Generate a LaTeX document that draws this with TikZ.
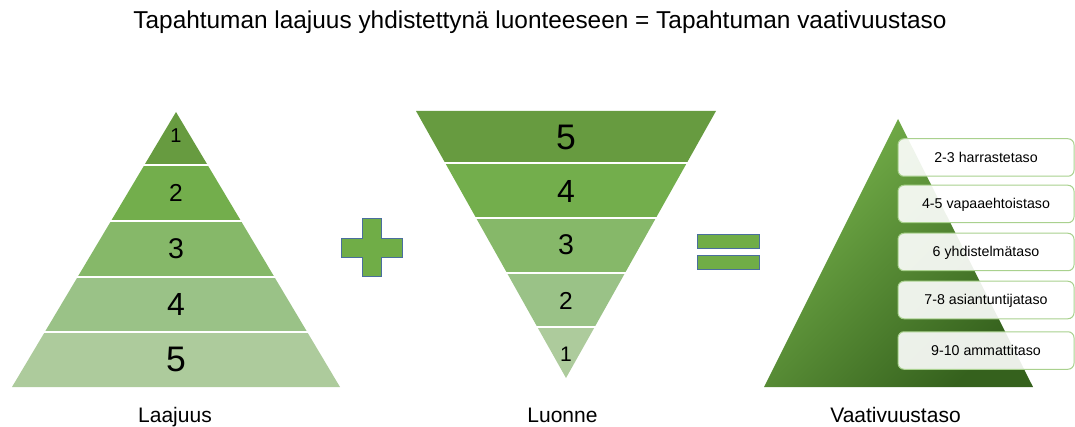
\documentclass[tikz,border=0pt]{standalone}
\usepackage{fontspec}
\setmainfont{Liberation Sans}
\definecolor{ga}{HTML}{679B40}
\definecolor{gb}{HTML}{73AE4C}
\definecolor{gc}{HTML}{86B869}
\definecolor{gd}{HTML}{9AC287}
\definecolor{ge}{HTML}{ADCB9C}
\definecolor{symgreen}{HTML}{70AD47}
\definecolor{symblue}{HTML}{4A6E9E}
\definecolor{boxgreen}{HTML}{A9D18E}
\definecolor{trilight}{HTML}{78B44C}
\definecolor{tridark}{HTML}{35611D}
\begin{document}
\begin{tikzpicture}[x=1pt,y=-1pt,
  sep/.style={draw=white, line width=2pt},
  num/.style={anchor=base, inner sep=0pt, text=black},
  lbl/.style={anchor=base, inner sep=0pt, font=\fontsize{21}{24}\selectfont},
  tbox/.style={draw=boxgreen, line width=1pt, fill=white, fill opacity=0.9, text opacity=1,
    rounded corners=6pt, minimum width=176pt, minimum height=37.5pt, inner sep=0pt,
    text height=10pt, text depth=0pt, font=\fontsize{14.2}{16}\selectfont},
  sym/.style={fill=symgreen, draw=symblue, line width=1pt}]
\useasboundingbox (0,0) rectangle (1075,427);

% title
\node[anchor=base, inner sep=0pt, font=\fontsize{24.4}{28}\selectfont] (title) at (540,29)
  {Tapahtuman laajuus yhdistettynä luonteeseen = Tapahtuman vaativuustaso};

% left pyramid
\fill[ga] (176,112) -- (207.6,165) -- (144.4,165) -- cycle;
\fill[gb] (144.4,165) -- (207.6,165) -- (241,221) -- (111,221) -- cycle;
\fill[gc] (111,221) -- (241,221) -- (274.4,277) -- (77.6,277) -- cycle;
\fill[gd] (77.6,277) -- (274.4,277) -- (307.2,332) -- (44.8,332) -- cycle;
\fill[ge] (44.8,332) -- (307.2,332) -- (340,387) -- (12,387) -- cycle;
\foreach \yy in {165,221,277,332} \draw[sep] (5,\yy) -- (347,\yy);
\node[num, font=\fontsize{20}{22}\selectfont] (l1) at (176,143) {1};
\node[num, font=\fontsize{24.5}{26}\selectfont] (l2) at (176,202) {2};
\node[num, font=\fontsize{28.5}{30}\selectfont] (l3) at (176,259) {3};
\node[num, font=\fontsize{32}{34}\selectfont] (l4) at (176,316) {4};
\node[num, font=\fontsize{35.5}{38}\selectfont] (l5) at (176,371) {5};

% plus
\draw[sym] (362,219) -- (381,219) -- (381,239) -- (402,239) -- (402,258) -- (381,258)
  -- (381,277) -- (362,277) -- (362,258) -- (341,258) -- (341,239) -- (362,239) -- cycle;

% middle inverted pyramid
\fill[ga] (416,111) -- (716,111) -- (686.8,163) -- (445.2,163) -- cycle;
\fill[gb] (445.2,163) -- (686.8,163) -- (655.9,218) -- (476.1,218) -- cycle;
\fill[gc] (476.1,218) -- (655.9,218) -- (625,273) -- (507,273) -- cycle;
\fill[gd] (507,273) -- (625,273) -- (594.7,327) -- (537.3,327) -- cycle;
\fill[ge] (537.3,327) -- (594.7,327) -- (566,378) -- cycle;
\foreach \yy in {163,218,273,327} \draw[sep] (410,\yy) -- (722,\yy);
\node[num, font=\fontsize{35.5}{38}\selectfont] (m5) at (566,150) {5};
\node[num, font=\fontsize{32}{34}\selectfont] (m4) at (566,203) {4};
\node[num, font=\fontsize{28.5}{30}\selectfont] (m3) at (566,255) {3};
\node[num, font=\fontsize{24.5}{26}\selectfont] (m2) at (566,309) {2};
\node[num, font=\fontsize{21}{22}\selectfont] (m1) at (566,361) {1};

% equals
\draw[sym] (697,235) rectangle (759,249);
\draw[sym] (697,256) rectangle (759,270);

% right triangle
\shade[top color=trilight, bottom color=tridark, shading angle=45]
  (898,119) -- (1033,387) -- (764,387) -- cycle;
\node[tbox] (b1) at (986,157.5) {2-3 harrastetaso};
\node[tbox] (b2) at (986,204) {4-5 vapaaehtoistaso};
\node[tbox] (b3) at (986,252) {6 yhdistelmätaso};
\node[tbox] (b4) at (986,300) {7-8 asiantuntijataso};
\node[tbox] (b5) at (986,350.5) {9-10 ammattitaso};

% labels
\node[lbl] (lab1) at (175,422) {Laajuus};
\node[lbl] (lab2) at (562.5,422) {Luonne};
\node[lbl] (lab3) at (895.5,422) {Vaativuustaso};
\end{tikzpicture}
\end{document}
